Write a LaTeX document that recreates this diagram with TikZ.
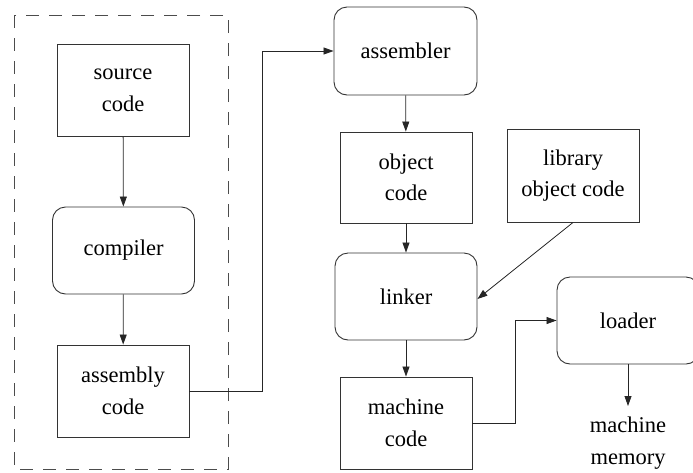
\documentclass[tikz,border=0pt]{standalone}
\usepackage{fontspec}
\setmainfont{Liberation Serif}
\newfontfamily\diagfont{Liberation Serif}
\usetikzlibrary{arrows.meta}
\begin{document}
\begin{tikzpicture}[x=1pt,y=-1pt,
  every node/.style={font=\diagfont\fontsize{22.5}{31.5}\selectfont, align=center, inner sep=0pt},
  box/.style={draw=black!80, line width=0.9pt, rectangle, minimum width=132pt, minimum height=92pt},
  rbox/.style={draw=black!80, line width=0.9pt, rectangle, rounded corners=13pt, minimum width=142pt, minimum height=87pt},
  flow/.style={draw=black!85, line width=0.8pt, -{Triangle[length=10pt,width=7pt]}},
  group/.style={draw=black!70, line width=0.9pt, dash pattern=on 13pt off 10pt}]
\useasboundingbox (0,0) rectangle (693,472);
\clip (0,0) rectangle (693,472);

% compiler stage, grouped in a dashed frame
\draw[group] (14,15) rectangle (228,469);
\node[box]  (src)  at (123,90.5)  {source\\code};
\node[rbox] (comp) at (123.5,250.5) {compiler};
\node[box]  (asm)  at (123,391)   {assembly\\code};

% assembling and linking
\node[rbox, minimum width=143pt, minimum height=88pt] (asmr) at (405.5,51) {assembler};
\node[box, minimum height=91pt] (obj) at (406,177.5) {object\\code};
\node[box, minimum height=93pt] (lib) at (573,175.5) {library\\object code};
\node[rbox] (link) at (406,296.5) {linker};
\node[box]  (mach) at (406,423)   {machine\\code};

% loading
\node[rbox] (load) at (628,320.5) {loader};
\node (mem) at (628,443) {machine\\memory};
\coordinate (memtop) at (628,406);

% connectors
\draw[flow] (src) -- (comp);
\draw[flow] (comp) -- (asm);
\draw[flow] (asm.east) -- (262,391) |- (asmr.west);
\draw[flow] (asmr) -- (obj);
\draw[flow] (obj) -- (link);
\draw[flow] (lib.south) -- ([yshift=-2.5pt]link.east);
\draw[flow] (link) -- (mach);
\draw[flow] (mach.east) -- (515,423) |- (load.west);
\draw[flow] (load.south) -- (memtop);
\end{tikzpicture}
\end{document}
